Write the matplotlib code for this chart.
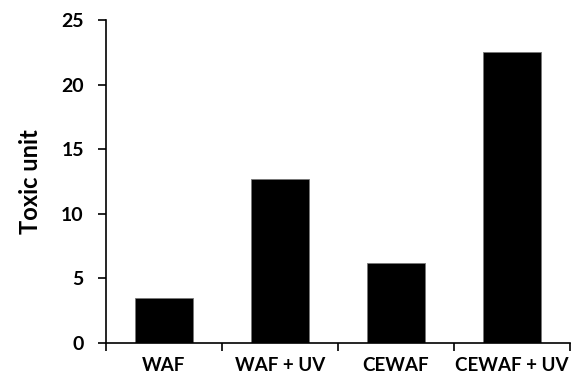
import matplotlib
matplotlib.use("Agg")
import matplotlib.pyplot as plt

categories = ["WAF", "WAF + UV", "CEWAF", "CEWAF + UV"]
values = [3.5, 12.7, 6.2, 22.5]
yticks = [0, 5, 10, 15, 20, 25]

plt.rcParams['font.family'] = ['Lato', 'DejaVu Sans']
fig = plt.figure(figsize=(5.71, 3.79), dpi=100)
ax = fig.add_axes([106/571, 1-343/379, (570-106)/571, (343-20)/379])

x = list(range(len(categories)))
ax.bar(x, values, width=0.5, color="black", edgecolor="#777777", linewidth=0.6)
ax.set_xlim(-0.5, len(categories)-0.5)
ax.set_ylim(0, 25)
ax.set_yticks(yticks)
ax.set_yticklabels([str(t) for t in yticks], fontsize=14, fontweight='bold')
ax.set_xticks([i - 0.5 for i in range(len(categories)+1)], minor=False)
ax.set_xticklabels([])
ax.set_xticks(x, minor=True)
ax.set_xticklabels(categories, minor=True, fontsize=13.5, fontweight='bold')
ax.tick_params(axis='x', which='minor', length=0, pad=10)
ax.tick_params(axis='x', which='major', length=6, width=1.2, direction='out')
ax.tick_params(axis='y', length=6, width=1.2, direction='out', pad=10)
for s in ['top', 'right']:
    ax.spines[s].set_visible(False)
for s in ['left', 'bottom']:
    ax.spines[s].set_linewidth(1.2)
ax.set_ylabel("Toxic unit", fontsize=17, fontweight='bold', labelpad=14)
fig.savefig("out.png", dpi=100)
